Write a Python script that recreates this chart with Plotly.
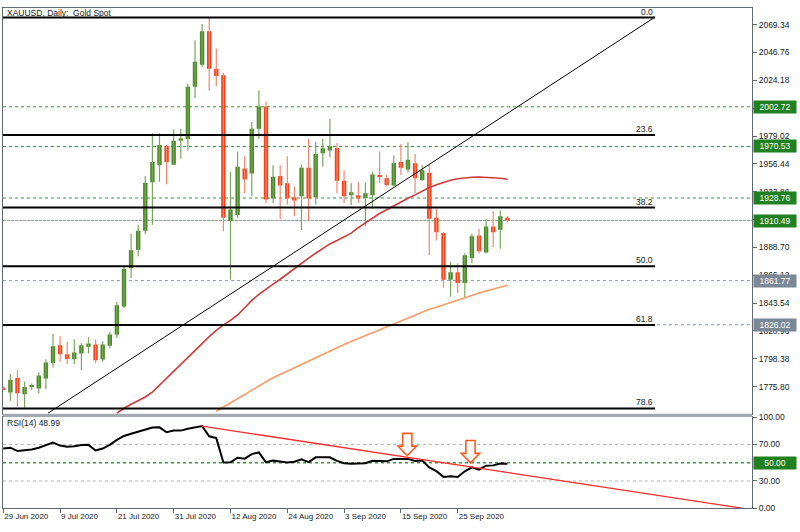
import plotly.graph_objects as go

# ---------------- data ----------------
title_text = "XAUUSD, Daily:  Gold Spot"
date_tick_idx = [0, 8, 16, 24, 32, 40, 48, 56, 64]
date_tick_text = ["29 Jun 2020", "9 Jul 2020", "21 Jul 2020", "31 Jul 2020", "12 Aug 2020",
                  "24 Aug 2020", "3 Sep 2020", "15 Sep 2020", "25 Sep 2020"]

opens = [1775.0, 1771.0, 1782.9, 1769.7, 1776.0, 1774.4, 1782.4, 1794.9, 1809.4, 1802.0,
         1798.0, 1802.6, 1808.1, 1810.0, 1797.8, 1808.9, 1818.0, 1840.8, 1871.8, 1886.9,
         1902.2, 1941.5, 1955.3, 1970.7, 1955.8, 1975.2, 1976.5, 2019.0, 2036.7, 2064.0,
         2033.5, 2028.2, 1910.2, 1915.0, 1952.6, 1948.6, 1985.0, 2003.0, 1928.3, 1946.6,
         1940.7, 1929.3, 1930.1, 1953.2, 1929.3, 1965.1, 1967.3, 1969.3, 1942.8, 1930.9,
         1930.9, 1928.8, 1930.9, 1947.0, 1944.7, 1938.8, 1957.9, 1951.8, 1956.9, 1943.4,
         1949.2, 1912.8, 1900.4, 1862.5, 1868.6, 1859.8, 1880.2, 1898.3, 1884.5, 1905.7,
         1903.0, 1912.8]
highs = [1775.8, 1786.1, 1789.5, 1779.7, 1778.4, 1787.5, 1798.0, 1818.7, 1816.6, 1812.1,
         1814.2, 1811.0, 1815.8, 1814.0, 1812.6, 1820.1, 1844.4, 1873.0, 1899.6, 1907.0,
         1946.6, 1981.2, 1981.2, 1972.0, 1984.4, 1985.0, 2021.6, 2056.6, 2069.9, 2075.1,
         2050.0, 2030.1, 1950.0, 1966.4, 1962.7, 1990.3, 2016.2, 2007.0, 1955.3, 1955.3,
         1962.7, 1938.0, 1955.8, 1976.5, 1974.4, 1977.0, 1993.0, 1973.3, 1951.3, 1940.7,
         1942.0, 1941.3, 1950.0, 1966.4, 1947.4, 1963.3, 1972.5, 1973.9, 1964.5, 1955.3,
         1955.8, 1920.3, 1901.0, 1877.0, 1875.8, 1883.7, 1899.6, 1903.6, 1912.0, 1918.2,
         1918.7, 1914.2]
lows = [1773.0, 1764.4, 1759.6, 1758.3, 1773.2, 1770.4, 1773.6, 1791.4, 1795.7, 1794.1,
        1794.1, 1789.0, 1802.6, 1794.9, 1796.2, 1806.8, 1815.3, 1839.4, 1863.8, 1881.6,
        1899.6, 1907.0, 1942.0, 1939.9, 1955.3, 1960.6, 1967.2, 2009.7, 2034.9, 2015.8,
        2019.4, 1901.7, 1862.5, 1912.8, 1932.7, 1930.1, 1976.5, 1924.8, 1924.8, 1911.6,
        1923.5, 1914.2, 1902.8, 1910.2, 1923.5, 1954.0, 1961.9, 1932.7, 1924.8, 1923.0,
        1924.8, 1906.2, 1920.3, 1940.7, 1938.0, 1938.0, 1947.4, 1949.4, 1932.7, 1942.6,
        1882.4, 1894.3, 1855.9, 1848.7, 1851.9, 1847.9, 1875.8, 1883.7, 1883.7, 1889.0,
        1887.7, 1908.9]
closes = [1773.8, 1781.1, 1770.4, 1775.5, 1777.1, 1784.8, 1795.4, 1808.6, 1802.0, 1798.3,
          1803.4, 1809.4, 1810.8, 1797.2, 1810.0, 1818.0, 1841.8, 1871.2, 1886.3, 1902.2,
          1941.2, 1957.9, 1971.7, 1957.9, 1975.2, 1977.0, 2019.0, 2039.3, 2064.0, 2033.5,
          2027.7, 1912.8, 1919.5, 1954.0, 1943.8, 1985.0, 2003.0, 1927.5, 1946.0, 1938.8,
          1928.3, 1926.7, 1953.2, 1928.3, 1964.5, 1969.1, 1970.7, 1942.8, 1930.1, 1933.5,
          1928.3, 1932.7, 1947.8, 1946.0, 1939.4, 1957.1, 1953.2, 1959.8, 1944.7, 1951.3,
          1912.0, 1900.9, 1862.5, 1868.6, 1859.8, 1882.4, 1897.7, 1885.5, 1905.7, 1900.9,
          1914.0, 1910.49]

ma_red_start = 16
ma_red = [1754.3, 1758.3, 1761.5, 1764.7, 1767.4, 1771.4, 1777.0, 1783.0, 1788.5, 1794.1,
          1799.7, 1805.2, 1811.2, 1816.3, 1821.5, 1825.9, 1829.5, 1833.9, 1839.8, 1845.8,
          1850.6, 1855.0, 1858.9, 1862.9, 1867.3, 1871.7, 1876.0, 1880.0, 1884.0, 1888.0,
          1891.5, 1894.3, 1897.1, 1900.3, 1904.7, 1908.7, 1912.6, 1916.2, 1919.3, 1922.5,
          1925.7, 1928.5, 1931.3, 1934.5, 1937.3, 1939.6, 1941.6, 1943.2, 1944.4, 1945.2,
          1945.6, 1945.8, 1945.6, 1945.2, 1944.8, 1944.0]
ma_orange_start = 30
ma_orange = [1755.9, 1759.1, 1762.3, 1765.8, 1769.4, 1773.0, 1776.6, 1779.8, 1783.0, 1785.7,
             1788.5, 1791.3, 1794.1, 1796.9, 1799.7, 1802.4, 1804.8, 1807.6, 1810.0, 1812.4,
             1814.8, 1817.1, 1819.5, 1821.9, 1824.3, 1826.7, 1829.1, 1831.5, 1833.9, 1836.3,
             1838.6, 1840.2, 1842.2, 1844.2, 1846.2, 1848.2, 1850.2, 1851.8, 1853.4, 1855.0,
             1856.5, 1858.1]
rsi = [65.6, 66.5, 62.8, 63.4, 64.6, 66.4, 69.5, 72.0, 68.8, 67.4,
       68.0, 69.4, 69.6, 63.5, 65.5, 69.5, 75.0, 79.3, 81.8, 84.0,
       86.8, 88.5, 88.8, 83.4, 85.2, 85.2, 87.3, 88.5, 90.2, 79.0,
       77.0, 50.3, 50.5, 55.5, 54.5, 59.5, 61.3, 50.5, 52.3, 51.3,
       50.3, 51.0, 53.8, 50.6, 55.9, 56.0, 55.9, 52.0, 49.5, 48.9,
       48.9, 49.5, 52.1, 51.5, 51.5, 54.2, 54.2, 54.2, 52.0, 52.4,
       44.8, 40.8, 34.5, 35.2, 34.3, 40.6, 45.0, 42.5, 46.8, 47.1,
       49.2, 48.99]

price_tick_vals = [2069.34, 2046.76, 2024.18, 2001.60, 1979.02, 1956.44, 1933.86, 1911.28,
                   1888.70, 1866.12, 1843.54, 1820.96, 1798.38, 1775.80]
green_levels = [2002.72, 1970.53, 1928.76]
current_price = 1910.49
gray_levels = [1861.77, 1826.02]

fib_high = 2075.1
fib_low = 1671.8
fib_levels = [0.0, 23.6, 38.2, 50.0, 61.8, 78.6]
fib_end_bar = 91.8

trend_bars = [6.3, 91.8]
trend_prices = [1754.3, 2075.5]
rsi_trend_bars = [27.94, 104.2]
rsi_trend_vals = [90.2, 0.0]
arrow_bars = [56.9, 65.8]
arrow_tips = [57.7, 49.8]
rsi_tick_vals = [100, 70, 30, 0]
rsi_levels_gray = [70, 30]
rsi_level_mid = 50

# ---------------- styling ----------------
W, H = 800, 532
X0, X1 = 3, 752          # plot area px
Y_MAIN = (3, 417)
Y_RSI = (420, 513)
FONT = "Liberation Sans"
GREEN = "#4c8a2a"
GREEN_W = "#79a85a"
RED = "#f4441c"
RED_W = "#f6866d"
BOX_GREEN = "#21801f"
BOX_GRAY = "#7a8898"

def fy(py):
    return 1 - py / H

n = len(opens)
idx = list(range(n))

fig = go.Figure()

# wicks
for up, col in ((True, GREEN_W), (False, RED_W)):
    xs, ys = [], []
    for i in idx:
        if (closes[i] >= opens[i]) == up:
            xs += [i, i, None]
            ys += [lows[i], highs[i], None]
    fig.add_trace(go.Scatter(x=xs, y=ys, mode="lines", line=dict(color=col, width=1.2),
                             hoverinfo="skip", showlegend=False, xaxis="x", yaxis="y"))

# bodies
for up, col in ((True, GREEN), (False, RED)):
    bx, bb, bh = [], [], []
    for i in idx:
        if (closes[i] >= opens[i]) == up:
            bx.append(i)
            lo = min(opens[i], closes[i])
            hgt = abs(closes[i] - opens[i])
            if hgt < 1.2:
                lo -= (1.2 - hgt) / 2
                hgt = 1.2
            bb.append(lo)
            bh.append(hgt)
    fig.add_trace(go.Bar(x=bx, y=bh, base=bb, width=0.62, marker=dict(color=col, line=dict(width=0)),
                         showlegend=False, hoverinfo="skip", xaxis="x", yaxis="y"))

# moving averages
fig.add_trace(go.Scatter(x=list(range(ma_red_start, ma_red_start + len(ma_red))), y=ma_red,
                         mode="lines", line=dict(color="#cf3a3a", width=1.6),
                         showlegend=False, hoverinfo="skip", xaxis="x", yaxis="y"))
fig.add_trace(go.Scatter(x=list(range(ma_orange_start, ma_orange_start + len(ma_orange))), y=ma_orange,
                         mode="lines", line=dict(color="#ff9a66", width=1.6),
                         showlegend=False, hoverinfo="skip", xaxis="x", yaxis="y"))

# RSI
fig.add_trace(go.Scatter(x=idx, y=rsi, mode="lines", line=dict(color="#000000", width=2),
                         showlegend=False, hoverinfo="skip", xaxis="x2", yaxis="y2"))
fig.add_trace(go.Scatter(x=rsi_trend_bars, y=rsi_trend_vals, mode="lines",
                         line=dict(color="#ff2a2a", width=1.3),
                         showlegend=False, hoverinfo="skip", xaxis="x2", yaxis="y2"))

shapes = []
# dotted level lines
for lv in green_levels:
    shapes.append(dict(type="line", xref="x domain", yref="y", x0=0, x1=1, y0=lv, y1=lv,
                       line=dict(color="#3a9a3a", width=1, dash="dot"), layer="below"))
shapes.append(dict(type="line", xref="x domain", yref="y", x0=0, x1=1, y0=current_price, y1=current_price,
                   line=dict(color="#7fa88a", width=1, dash="3px,1px"), layer="below"))
for lv in gray_levels:
    shapes.append(dict(type="line", xref="x domain", yref="y", x0=0, x1=1, y0=lv, y1=lv,
                       line=dict(color="#8898b0", width=1, dash="dot"), layer="below"))
# fibonacci lines
fib_prices = [fib_high - lv / 100.0 * (fib_high - fib_low) for lv in fib_levels]
for fp in fib_prices:
    shapes.append(dict(type="line", xref="x", yref="y", x0=-2, x1=fib_end_bar, y0=fp, y1=fp,
                       line=dict(color="#000000", width=2), layer="above"))
# trendline
shapes.append(dict(type="line", xref="x", yref="y", x0=trend_bars[0], x1=trend_bars[1],
                   y0=trend_prices[0], y1=trend_prices[1], line=dict(color="#000000", width=1), layer="above"))
# RSI levels
for lv in rsi_levels_gray:
    shapes.append(dict(type="line", xref="x2 domain", yref="y2", x0=0, x1=1, y0=lv, y1=lv,
                       line=dict(color="#b8b8b8", width=1, dash="dot"), layer="below"))
shapes.append(dict(type="line", xref="x2 domain", yref="y2", x0=0, x1=1, y0=rsi_level_mid, y1=rsi_level_mid,
                   line=dict(color="#3a9a3a", width=1.5, dash="dot"), layer="below"))
# arrows
SW, HW, HEAD, STEM = 0.65, 1.3, 10.5, 14.0
for cx, tip in zip(arrow_bars, arrow_tips):
    hy = tip + HEAD
    ty = hy + STEM
    path = (f"M {cx-SW},{ty} L {cx+SW},{ty} L {cx+SW},{hy} L {cx+HW},{hy} L {cx},{tip} "
            f"L {cx-HW},{hy} L {cx-SW},{hy} Z")
    shapes.append(dict(type="path", xref="x2", yref="y2", path=path, fillcolor="white",
                       line=dict(color="#ff5a1a", width=1.6), layer="above"))
# separator band between panels
shapes.append(dict(type="rect", xref="paper", yref="paper", x0=X0 / W, x1=X1 / W,
                   y0=fy(420), y1=fy(416.5), fillcolor="#a2aab0", line=dict(width=0), layer="above"))

annotations = []
annotations.append(dict(text=title_text, xref="paper", yref="paper", x=5 / W, y=fy(8),
                        xanchor="left", yanchor="middle", showarrow=False,
                        font=dict(family=FONT, size=8.5, color="#202020")))
annotations.append(dict(text="RSI(14) " + f"{rsi[-1]:.2f}", xref="paper", yref="paper", x=5 / W, y=fy(426.5),
                        xanchor="left", yanchor="middle", showarrow=False,
                        font=dict(family=FONT, size=8.5, color="#202020")))
for lv, fp in zip(fib_levels, fib_prices):
    annotations.append(dict(text=f"{lv:.1f}", xref="x", yref="y", x=fib_end_bar - 0.1, y=fp,
                            xanchor="right", yanchor="bottom", showarrow=False, borderpad=0,
                            font=dict(family=FONT, size=8.5, color="#202020")))
def box(lv, col, yref):
    return dict(text=f"{lv:.2f}", xref="paper", yref=yref, x=(X1 + 1) / W, y=lv,
                xanchor="left", yanchor="middle", showarrow=False, bgcolor=col,
                width=40, height=10, borderpad=1, font=dict(family=FONT, size=8.5, color="white"))
for lv in green_levels + [current_price]:
    annotations.append(box(lv, BOX_GREEN, "y"))
for lv in gray_levels:
    annotations.append(box(lv, BOX_GRAY, "y"))
annotations.append(box(rsi_level_mid, BOX_GREEN, "y2"))

axis_common = dict(showgrid=False, zeroline=False, showline=True, linecolor="#5f6b70", linewidth=1,
                   mirror=True, tickfont=dict(family=FONT, size=8.5, color="#202020"))
xr = [-0.04, (X1 - 3.3) / 7.1]

fig.update_layout(
    width=W, height=H, margin=dict(l=0, r=0, t=0, b=0),
    paper_bgcolor="white", plot_bgcolor="white", barmode="overlay", showlegend=False,
    xaxis=dict(domain=[X0 / W, X1 / W], range=xr, anchor="y", showticklabels=False, ticks="",
               **axis_common),
    yaxis=dict(domain=[fy(Y_MAIN[1]), fy(Y_MAIN[0])], range=[1753.5, 2082.86], anchor="x", side="right",
               tickvals=price_tick_vals, ticktext=[f"{v:.2f}" for v in price_tick_vals],
               ticks="outside", ticklen=4, tickcolor="#5f6b70", **axis_common),
    xaxis2=dict(domain=[X0 / W, X1 / W], range=xr, anchor="y2", tickvals=date_tick_idx,
                ticktext=date_tick_text, ticks="outside", ticklen=4, tickcolor="#5f6b70",
                ticklabelposition="outside right", **{**axis_common, "tickfont": dict(family=FONT, size=8, color="#202020")}),
    yaxis2=dict(domain=[fy(Y_RSI[1]), fy(Y_RSI[0])], range=[0, 100], anchor="x2", side="right",
                tickvals=rsi_tick_vals, ticktext=[f"{v:.2f}" for v in rsi_tick_vals],
                ticks="outside", ticklen=4, tickcolor="#5f6b70", **axis_common),
    shapes=shapes, annotations=annotations,
)

fig.write_html("out.html")
